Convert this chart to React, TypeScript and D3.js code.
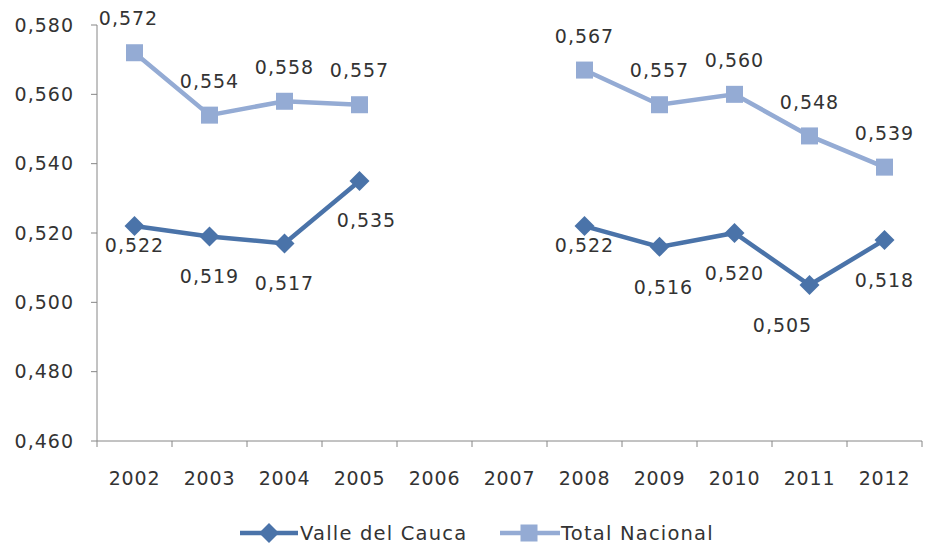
import React from "react";
import * as d3 from "d3";

const years = ["2002", "2003", "2004", "2005", "2006", "2007", "2008", "2009", "2010", "2011", "2012"];
const valleDelCauca = [0.522, 0.519, 0.517, 0.535, null, null, 0.522, 0.516, 0.52, 0.505, 0.518];
const totalNacional = [0.572, 0.554, 0.558, 0.557, null, null, 0.567, 0.557, 0.56, 0.548, 0.539];
const yTicks = [0.46, 0.48, 0.5, 0.52, 0.54, 0.56, 0.58];

// label nudges (Excel-like placement)
const valleLabelDy: Record<string, number> = { "2002": 19, "2005": 39, "2008": 19 };
const valleLabelDx: Record<string, number> = { "2005": 7, "2011": -27, "2009": 4 };
const totalLabelDx: Record<string, number> = { "2002": -6 };

const fmt = (v: number) => v.toFixed(3).replace(".", ",");

const colorValle = "#4a73a9";
const colorTotal = "#94abd4";
const textColor = "#333333";
const font = "DejaVu Sans, Verdana, sans-serif";

export default function App() {
  const W = 928;
  const H = 550;
  const margin = { left: 97, right: 6, top: 25, bottom: 109 };

  const x = d3.scaleBand().domain(years).range([margin.left, W - margin.right]);
  const y = d3.scaleLinear().domain([0.46, 0.58]).range([H - margin.bottom, margin.top]);
  const cx = (yr: string) => (x(yr) as number) + x.bandwidth() / 2;

  const line = d3
    .line<number | null>()
    .defined((d) => d !== null)
    .x((_, i) => cx(years[i]))
    .y((d) => y(d as number));

  const baseY = y(0.46);
  const diamond = (px: number, py: number, r: number) =>
    `M${px},${py - r}L${px + r},${py}L${px},${py + r}L${px - r},${py}Z`;

  return (
    <svg width={W} height={H} style={{ position: "absolute", left: 0, top: 0 }}>
      <rect width={W} height={H} fill="#fff" />
      {/* y axis */}
      <line x1={margin.left} x2={margin.left} y1={margin.top} y2={baseY} stroke="#868686" />
      {yTicks.map((t) => (
        <g key={t}>
          <line x1={margin.left - 6} x2={margin.left} y1={y(t)} y2={y(t)} stroke="#868686" />
          <text
            x={margin.left - 23}
            y={y(t)}
            dy="0.35em"
            textAnchor="end"
            fontSize={19}
            fontFamily={font}
            letterSpacing={1}
            fill={textColor}
          >
            {fmt(t)}
          </text>
        </g>
      ))}
      {/* x axis */}
      <line x1={margin.left} x2={W - margin.right} y1={baseY} y2={baseY} stroke="#868686" />
      {years.map((yr, i) => (
        <g key={yr}>
          <line
            x1={(x(yr) as number) + x.bandwidth()}
            x2={(x(yr) as number) + x.bandwidth()}
            y1={baseY}
            y2={baseY + 6}
            stroke="#868686"
          />
          {i === 0 && <line x1={margin.left} x2={margin.left} y1={baseY} y2={baseY + 6} stroke="#868686" />}
          <text
            x={cx(yr)}
            y={baseY + 37}
            dy="0.35em"
            textAnchor="middle"
            fontSize={19}
            fontFamily={font}
            letterSpacing={0.8}
            fill={textColor}
          >
            {yr}
          </text>
        </g>
      ))}

      {/* Total Nacional */}
      <path d={line(totalNacional) || ""} fill="none" stroke={colorTotal} strokeWidth={4.5} />
      {totalNacional.map((v, i) =>
        v === null ? null : (
          <g key={"t" + i}>
            <rect x={cx(years[i]) - 8.5} y={y(v) - 8.5} width={17} height={17} fill={colorTotal} />
            <text
              x={cx(years[i]) + (totalLabelDx[years[i]] || 0)}
              y={y(v) - 34}
              dy="0.35em"
              textAnchor="middle"
              fontSize={19}
              fontFamily={font}
              letterSpacing={1}
              fill={textColor}
            >
              {fmt(v)}
            </text>
          </g>
        )
      )}

      {/* Valle del Cauca */}
      <path d={line(valleDelCauca) || ""} fill="none" stroke={colorValle} strokeWidth={4.5} />
      {valleDelCauca.map((v, i) =>
        v === null ? null : (
          <g key={"v" + i}>
            <path d={diamond(cx(years[i]), y(v), 10)} fill={colorValle} />
            <text
              x={cx(years[i]) + (valleLabelDx[years[i]] || 0)}
              y={y(v) + (valleLabelDy[years[i]] || 40)}
              dy="0.35em"
              textAnchor="middle"
              fontSize={19}
              fontFamily={font}
              letterSpacing={1}
              fill={textColor}
            >
              {fmt(v)}
            </text>
          </g>
        )
      )}

      {/* legend */}
      <g fontFamily={font} fontSize={19.5} fill={textColor}>
        <line x1={240} x2={298} y1={533} y2={533} stroke={colorValle} strokeWidth={4.5} />
        <path d={diamond(269, 533, 10)} fill={colorValle} />
        <text x={300} y={533} dy="0.35em" letterSpacing={1.2}>
          Valle del Cauca
        </text>
        <line x1={500} x2={560} y1={533} y2={533} stroke={colorTotal} strokeWidth={4.5} />
        <rect x={520.5} y={524.5} width={17} height={17} fill={colorTotal} />
        <text x={561} y={533} dy="0.35em" letterSpacing={1.2}>
          Total Nacional
        </text>
      </g>
    </svg>
  );
}
